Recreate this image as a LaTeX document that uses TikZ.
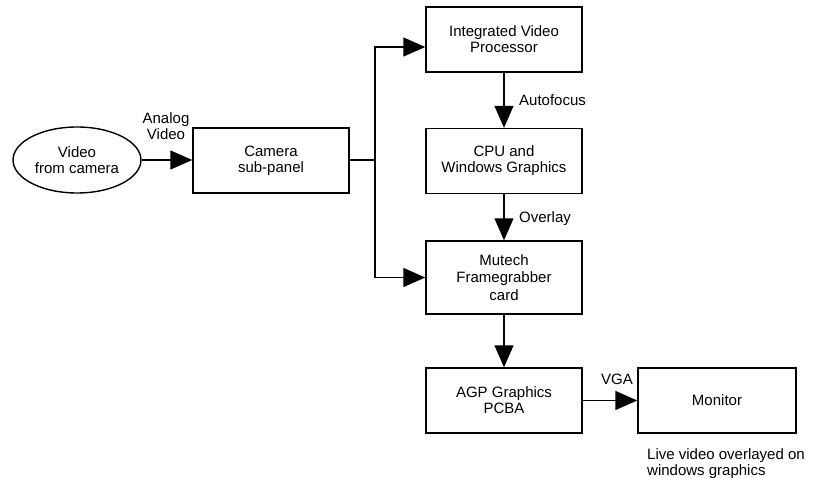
\documentclass[tikz,border=0pt]{standalone}
\usepackage{fontspec}
\setmainfont{Liberation Sans}
\usetikzlibrary{arrows.meta,shapes.geometric,calc}
\begin{document}
\begin{tikzpicture}[x=1pt,y=-1pt,
  txt/.style={font=\fontsize{15}{16}\selectfont,align=center,inner sep=0pt},
  box/.style={txt,draw,line width=1.4pt,rectangle,minimum width=156pt,minimum height=65pt},
  oval/.style={txt,draw,line width=1.4pt,ellipse,minimum width=128pt,minimum height=66pt},
  lbl/.style={txt},
  conn/.style={line width=1.4pt},
  arr/.style={conn,-{Triangle[length=22pt,width=19pt]}}]
\useasboundingbox (0,0) rectangle (814,478);
\node[oval] (src) at (77,160) {Video\\from camera};
\node[box] (cam) at (271,160.5) {Camera\\sub-panel};
\node[box] (ivp) at (504,39.5) {Integrated Video\\Processor};
\node[box] (cpu) at (504,161) {CPU and\\Windows Graphics};
\node[box,minimum height=73pt,font=\fontsize{15}{17.5}\selectfont] (mut) at (504,277.5) {Mutech\\Framegrabber\\card};
\node[box] (agp) at (504,400.5) {AGP Graphics\\PCBA};
\node[box,minimum width=158pt] (mon) at (717,400.5) {Monitor};
\coordinate (j) at (375,160);
\draw[arr] (src.east) -- (cam.west |- src.east);
\draw[conn] (cam.east |- j) -- (j);
\draw[arr] (j) |- ($(ivp.west)+(0,7.5)$);
\draw[arr] (j) |- (mut.west);
\draw[arr] (ivp.south) -- (cpu.north);
\draw[arr] (cpu.south) -- (mut.north);
\draw[arr] (mut.south) -- (agp.north);
\draw[arr] (agp.east) -- (mon.west);
\node[lbl] (l1) at (166,126) {Analog\\Video};
\node[lbl,anchor=west] (l2) at (519,100) {Autofocus};
\node[lbl,anchor=west] (l3) at (519,219) {Overlay};
\node[lbl] (l4) at (617,379) {VGA};
\node[lbl,anchor=north west,align=left] (l5) at (647,448) {Live video overlayed on\\windows graphics};
\end{tikzpicture}
\end{document}
